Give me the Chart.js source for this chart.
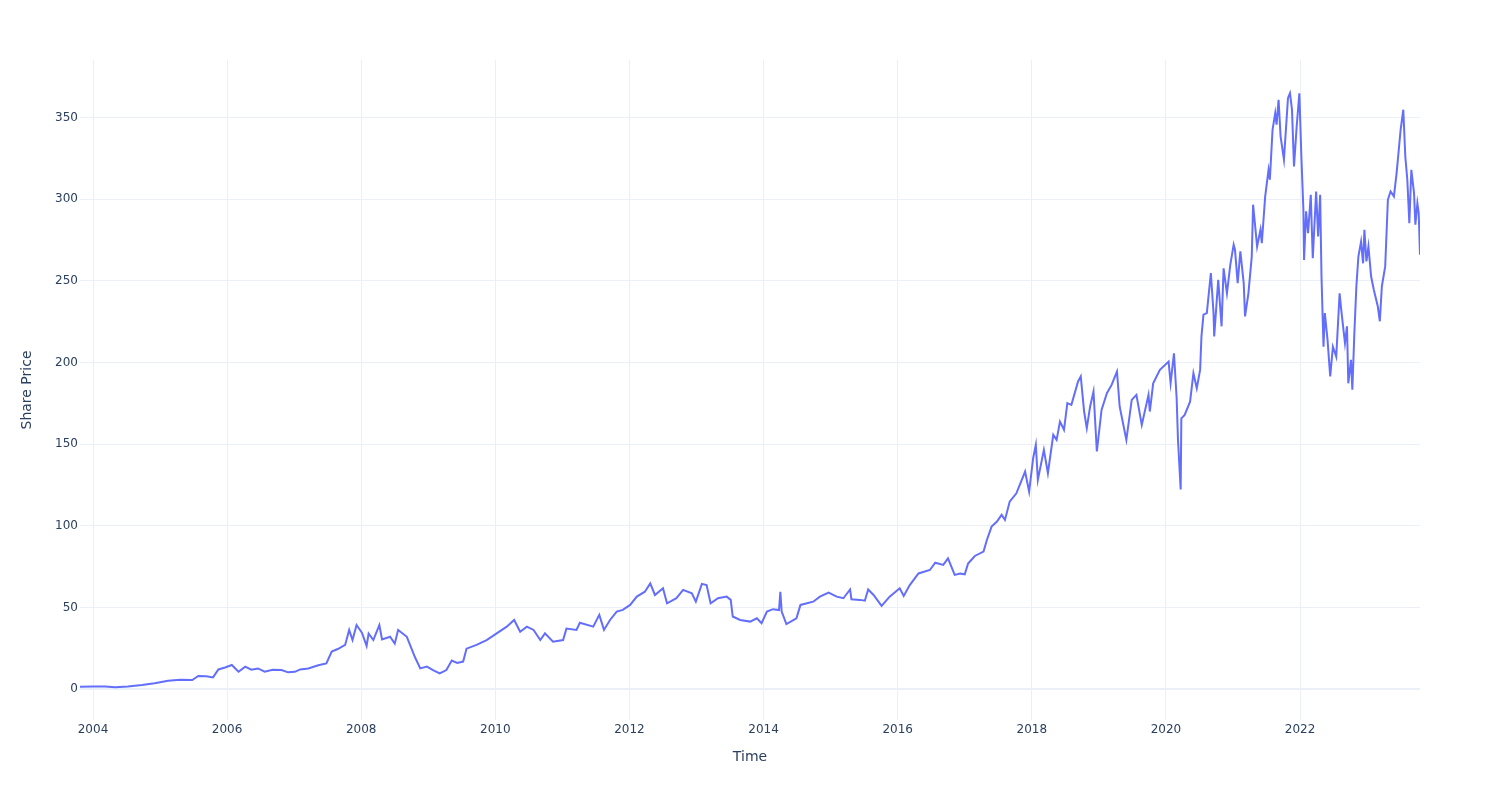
<!DOCTYPE html>
<html>
<head>
<meta charset="utf-8">
<script src="https://cdn.jsdelivr.net/npm/chart.js@4.4.1/dist/chart.umd.min.js"></script>
<style>
  html, body { margin: 0; padding: 0; background: #ffffff; }
  #wrap { width: 1500px; height: 800px; }
</style>
</head>
<body>
<div id="wrap"><canvas id="c" width="1500" height="800"></canvas></div>
<script>
// Time as decimal years
const dates = [
  2003.806, 2004.00, 2004.18, 2004.33, 2004.52, 2004.73, 2004.92, 2005.12, 2005.30, 2005.48,
  2005.57, 2005.69, 2005.79, 2005.87, 2005.97, 2006.07, 2006.17, 2006.27, 2006.36, 2006.46,
  2006.56, 2006.68, 2006.81, 2006.91, 2007.01, 2007.09, 2007.21, 2007.36, 2007.48, 2007.56,
  2007.65, 2007.76, 2007.82, 2007.87, 2007.93, 2008.01, 2008.08, 2008.11, 2008.18, 2008.27,
  2008.31, 2008.43, 2008.50, 2008.55, 2008.68, 2008.75, 2008.80, 2008.88, 2008.98, 2009.07,
  2009.17, 2009.27, 2009.35, 2009.43, 2009.52, 2009.57, 2009.72, 2009.87, 2010.02, 2010.17,
  2010.28, 2010.37, 2010.47, 2010.57, 2010.67, 2010.74, 2010.86, 2011.01, 2011.06, 2011.21,
  2011.26, 2011.46, 2011.55, 2011.62, 2011.71, 2011.81, 2011.90, 2012.01, 2012.11, 2012.23,
  2012.31, 2012.38, 2012.50, 2012.56, 2012.70, 2012.80, 2012.93, 2012.99, 2013.08, 2013.15,
  2013.21, 2013.32, 2013.45, 2013.51, 2013.54, 2013.65, 2013.80, 2013.90, 2013.97, 2014.05,
  2014.14, 2014.23, 2014.25, 2014.27, 2014.34, 2014.49, 2014.55, 2014.74, 2014.84, 2014.97,
  2015.09, 2015.19, 2015.29, 2015.31, 2015.44, 2015.51, 2015.56, 2015.64, 2015.76, 2015.88,
  2016.03, 2016.09, 2016.18, 2016.31, 2016.48, 2016.56, 2016.68, 2016.75, 2016.85, 2016.93,
  2017.00, 2017.05, 2017.15, 2017.28, 2017.33, 2017.40, 2017.48, 2017.55, 2017.60, 2017.67,
  2017.77, 2017.90, 2017.96, 2018.02, 2018.06, 2018.09, 2018.18, 2018.24, 2018.32, 2018.37,
  2018.42, 2018.48, 2018.53, 2018.59, 2018.69, 2018.73, 2018.78, 2018.82, 2018.87, 2018.92,
  2018.97, 2019.04, 2019.12, 2019.19, 2019.27, 2019.31, 2019.41, 2019.49, 2019.56, 2019.64,
  2019.74, 2019.76, 2019.81, 2019.91, 2020.04, 2020.07, 2020.12, 2020.16, 2020.18, 2020.22,
  2020.23, 2020.28, 2020.36, 2020.41, 2020.46, 2020.51, 2020.53, 2020.56, 2020.61, 2020.67,
  2020.71, 2020.72, 2020.78, 2020.83, 2020.86, 2020.91, 2020.96, 2021.01, 2021.03, 2021.07,
  2021.11, 2021.16, 2021.18, 2021.23, 2021.28, 2021.30, 2021.36, 2021.41, 2021.43, 2021.48,
  2021.53, 2021.55, 2021.59, 2021.63, 2021.65, 2021.68, 2021.71, 2021.76, 2021.82, 2021.85,
  2021.88, 2021.91, 2021.95, 2021.99, 2022.02, 2022.05, 2022.06, 2022.09, 2022.12, 2022.16,
  2022.19, 2022.24, 2022.27, 2022.30, 2022.32, 2022.35, 2022.37, 2022.41, 2022.45, 2022.49,
  2022.54, 2022.59, 2022.62, 2022.67, 2022.70, 2022.72, 2022.76, 2022.78, 2022.81, 2022.84,
  2022.87, 2022.91, 2022.94, 2022.96, 2022.99, 2023.02, 2023.06, 2023.10, 2023.16, 2023.19,
  2023.22, 2023.27, 2023.31, 2023.35, 2023.40, 2023.44, 2023.47, 2023.50, 2023.54, 2023.57,
  2023.60, 2023.63, 2023.66, 2023.70, 2023.72, 2023.75, 2023.77, 2023.789
];

// Share price
const prices = [
  1.4, 1.6, 1.5, 1.1, 1.6, 2.4, 3.5, 5.0, 5.6, 5.5,
  8.0, 7.8, 7.1, 12.0, 13.2, 14.7, 10.6, 13.7, 11.8, 12.6,
  10.6, 11.8, 11.6, 10.2, 10.5, 12.0, 12.6, 14.5, 15.7, 22.9,
  24.5, 27.0, 36.2, 30.0, 39.2, 34.5, 26.4, 34.0, 30.0, 39.2,
  30.3, 32.0, 27.8, 36.2, 32.0, 24.7, 19.6, 12.6, 13.7, 11.6,
  9.6, 11.6, 17.4, 16.0, 16.8, 24.7, 27.0, 30.0, 34.1, 38.2,
  42.3, 35.1, 38.2, 36.2, 30.0, 34.1, 29.0, 30.0, 37.0, 36.2,
  40.6, 38.2, 45.4, 36.2, 42.3, 47.4, 48.5, 51.5, 56.6, 59.6,
  64.7, 57.6, 61.7, 52.5, 55.6, 60.7, 58.6, 53.5, 64.4, 63.7,
  52.5, 55.6, 56.6, 54.6, 44.4, 42.3, 41.3, 43.3, 40.3, 47.4,
  48.9, 48.4, 59.6, 47.4, 39.8, 43.3, 51.5, 53.5, 56.6, 59.0,
  56.6, 55.6, 61.0, 55.0, 54.6, 54.1, 61.0, 57.6, 50.9, 56.6,
  61.7, 57.0, 63.7, 70.8, 72.9, 77.4, 76.0, 80.0, 69.9, 70.8,
  70.3, 76.9, 81.5, 84.2, 91.3, 99.5, 102.6, 106.7, 103.6, 114.8,
  119.9, 133.2, 120.9, 141.4, 149.6, 128.1, 146.5, 132.2, 155.7, 152.6,
  163.8, 158.8, 175.1, 174.1, 188.4, 191.5, 170.0, 159.8, 173.1, 182.3,
  145.5, 171.0, 181.2, 186.3, 194.5, 173.1, 152.6, 177.1, 180.2, 161.8,
  180.2, 170.0, 187.3, 195.5, 200.6, 187.3, 205.7, 178.1, 152.6, 122.2,
  165.8, 167.9, 176.0, 193.4, 184.2, 195.5, 216.0, 229.3, 230.3, 254.8,
  230.3, 216.0, 250.7, 222.2, 257.7, 242.4, 259.9, 272.2, 269.1, 248.7,
  268.1, 248.7, 228.3, 242.4, 264.9, 296.7, 271.1, 281.3, 273.1, 301.6,
  318.0, 312.0, 342.6, 352.8, 345.7, 361.0, 338.6, 324.3, 362.0, 365.0,
  354.9, 320.2, 344.7, 365.0, 326.1, 293.6, 262.9, 292.6, 279.3, 302.8,
  263.9, 304.8, 277.3, 302.8, 252.7, 209.7, 230.3, 213.9, 191.5, 209.7,
  203.6, 242.4, 230.3, 211.9, 222.2, 187.3, 201.7, 183.3, 218.0, 246.6,
  264.9, 274.1, 260.8, 281.3, 262.0, 271.1, 252.7, 244.6, 234.3, 225.3,
  246.6, 258.9, 299.7, 304.8, 301.8, 316.1, 329.3, 342.6, 354.9, 326.1,
  312.0, 285.4, 318.1, 303.8, 284.4, 297.5, 291.4, 266.0
];

const xTicks = [2004, 2006, 2008, 2010, 2012, 2014, 2016, 2018, 2020, 2022];
const yTicks = [0, 50, 100, 150, 200, 250, 300, 350];

const xTitle = 'Time';
const yTitle = 'Share Price';

const gridColor = '#ebf0f8';
const textColor = '#2a3f5f';
const fontFamily = '"DejaVu Sans", Verdana, Arial, sans-serif';

const points = dates.map((d, i) => ({ x: d, y: prices[i] }));

new Chart(document.getElementById('c'), {
  type: 'line',
  data: {
    datasets: [{
      data: points,
      borderColor: '#636efa',
      backgroundColor: '#636efa',
      borderWidth: 2,
      pointRadius: 0,
      pointHoverRadius: 0,
      tension: 0,
      fill: false
    }]
  },
  options: {
    responsive: false,
    devicePixelRatio: 1,
    animation: false,
    events: [],
    layout: { padding: { left: 0, right: 80, top: 60, bottom: 0 } },
    plugins: {
      legend: { display: false },
      tooltip: { enabled: false },
      title: { display: false }
    },
    scales: {
      x: {
        type: 'linear',
        min: 2003.806,
        max: 2023.789,
        afterBuildTicks: (scale) => { scale.ticks = xTicks.map(v => ({ value: v })); },
        afterFit: (scale) => { scale.height = 80; },
        ticks: {
          autoSkip: false,
          maxRotation: 0,
          padding: 3,
          color: textColor,
          font: { family: fontFamily, size: 12 },
          callback: (v) => String(v)
        },
        grid: { color: gridColor, lineWidth: 1, drawTicks: false },
        border: { display: false },
        title: {
          display: true,
          text: xTitle,
          color: textColor,
          font: { family: fontFamily, size: 14 },
          padding: { top: 0, bottom: 34 }
        }
      },
      y: {
        type: 'linear',
        min: -18.99,
        max: 385.35,
        afterBuildTicks: (scale) => { scale.ticks = yTicks.map(v => ({ value: v })); },
        afterFit: (scale) => { scale.width = 80; },
        ticks: {
          autoSkip: false,
          padding: 2,
          color: textColor,
          font: { family: fontFamily, size: 12 },
          callback: (v) => String(v)
        },
        grid: {
          color: gridColor,
          lineWidth: (ctx) => (ctx.tick && ctx.tick.value === 0 ? 2 : 1),
          drawTicks: false
        },
        border: { display: false },
        title: {
          display: true,
          text: yTitle,
          color: textColor,
          font: { family: fontFamily, size: 14 },
          padding: { top: 19, bottom: 0 }
        }
      }
    }
  }
});
</script>
</body>
</html>
